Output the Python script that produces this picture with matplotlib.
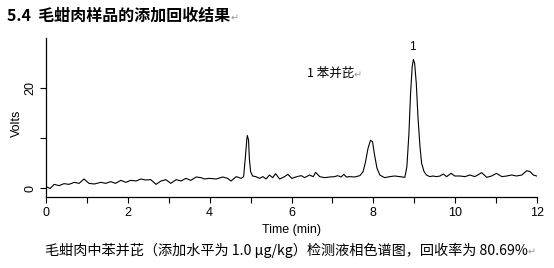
import matplotlib
matplotlib.use('Agg')
import matplotlib.pyplot as plt
import matplotlib.ticker as tk
from matplotlib.patches import Rectangle
from matplotlib.text import Annotation

plt.rcParams['font.family'] = ['Liberation Sans', 'DejaVu Sans']

# chromatogram trace (time in min, signal in volts)
t_min = [0.00, 0.10, 0.20, 0.32, 0.44, 0.56, 0.69, 0.81, 0.93, 1.05, 1.18, 1.34,
         1.46, 1.58, 1.70, 1.83, 1.95, 2.07, 2.20, 2.32, 2.44, 2.56, 2.69, 2.81,
         2.93, 3.05, 3.18, 3.30, 3.42, 3.54, 3.67, 3.79, 3.87, 3.99, 4.16, 4.32,
         4.44, 4.52, 4.65, 4.77, 4.83, 4.87, 4.91, 4.92, 4.95, 4.97, 5.00, 5.05,
         5.13, 5.22, 5.30, 5.38, 5.46, 5.54, 5.61, 5.71, 5.83, 5.91, 6.01, 6.13,
         6.24, 6.32, 6.44, 6.53, 6.59, 6.69, 6.81, 6.93, 7.05, 7.13, 7.21, 7.28,
         7.34, 7.42, 7.54, 7.67, 7.75, 7.81, 7.87, 7.93, 7.98, 8.03, 8.09, 8.16,
         8.20, 8.28, 8.40, 8.52, 8.65, 8.77, 8.82, 8.87, 8.91, 8.95, 8.98, 9.01,
         9.05, 9.09, 9.14, 9.18, 9.24, 9.30, 9.38, 9.46, 9.54, 9.63, 9.71, 9.79,
         9.90, 9.99, 10.12, 10.24, 10.36, 10.48, 10.65, 10.77, 10.89, 11.01,
         11.14, 11.26, 11.38, 11.50, 11.63, 11.75, 11.83, 11.91, 11.99]
volts = [0.3, -0.1, 0.73, 0.47, 0.87, 0.73, 1.13, 0.93, 1.8, 0.93, 0.8, 1.13,
         0.93, 1.27, 0.93, 1.53, 1.13, 1.53, 1.4, 1.8, 1.6, 1.67, 0.73, 1.4,
         1.67, 0.93, 1.67, 1.4, 1.93, 1.53, 2.2, 2.07, 1.8, 1.93, 1.8, 2.2,
         1.93, 1.4, 2.27, 1.93, 2.27, 5.9, 9.9, 10.5, 9.6, 5.9, 3.27, 2.4,
         2.27, 1.93, 2.27, 1.8, 2.6, 2.07, 2.87, 1.8, 2.27, 2.73, 1.93, 2.27,
         2.47, 2.07, 2.6, 2.27, 3.13, 2.27, 2.07, 2.2, 2.27, 2.47, 2.2, 2.73,
         2.2, 2.27, 2.2, 2.47, 3.27, 5.27, 7.93, 9.53, 9.27, 6.6, 3.93, 2.6,
         2.4, 2.07, 2.27, 2.4, 2.27, 2.13, 4.27, 10.9, 18.9, 24.3, 25.7, 24.9,
         20.9, 14.3, 8.27, 4.93, 3.27, 2.6, 2.27, 2.4, 2.27, 2.4, 2.8, 2.27,
         2.93, 2.4, 2.4, 2.27, 2.6, 2.27, 3.07, 2.13, 2.4, 2.93,
         2.27, 2.4, 2.6, 2.4, 2.6, 3.47, 3.27, 2.6, 2.4]

x_major = [0, 2, 4, 6, 8, 10, 12]
y_major = [0, 20]
y_minor = [10]

title_txt = '5.4  毛蚶肉样品的添加回收结果'
legend_txt = '1 苯并芘'
caption_txt = '毛蚶肉中苯并芘（添加水平为 1.0 μg/kg）检测液相色谱图，回收率为 80.69%'
cjk = ['Noto Sans CJK SC', 'DejaVu Sans']

fig = plt.figure(figsize=(5.54, 2.68), dpi=100)
ax = fig.add_axes([46 / 554, 1 - 197 / 268, (537 - 46) / 554, (197 - 38) / 268])

ax.plot(t_min, volts, color='k', lw=0.8)

ax.set_xlim(0, 12)
ax.set_ylim(-1.8, 30)
for s in ['top', 'right']:
    ax.spines[s].set_visible(False)
ax.spines['left'].set_linewidth(0.9)
ax.spines['bottom'].set_linewidth(0.9)

ax.set_xticks(x_major)
ax.xaxis.set_minor_locator(tk.MultipleLocator(1))
ax.set_yticks(y_major)
ax.set_yticks(y_minor, minor=True)
ax.set_yticklabels([str(v) for v in y_major], rotation=90, va='center')
ax.tick_params(which='both', direction='out', length=4, width=0.8, labelsize=9, pad=3)

ax.set_xlabel('Time (min)', fontsize=9, labelpad=4)
ax.set_ylabel('Volts', fontsize=9)
ax.yaxis.set_label_coords(-0.047, 0.465)

l1 = ax.text(6.37, 23, legend_txt, family=cjk, fontsize=9, va='center', ha='left')
ax.text(8.95, 28.3, '1', fontsize=8.5, va='center', ha='center')

# caption block sits over the bottom of the chart image
fig.patches.append(Rectangle((0, 0), 1, 1 - 237 / 268, transform=fig.transFigure,
                             facecolor='white', edgecolor='none', zorder=5))

t1 = fig.text(7 / 554, 1 - 16 / 268, title_txt, family=cjk, fontsize=11.5,
              fontweight='bold', va='center', ha='left')
c1 = fig.text(45 / 554, 1 - 250 / 268, caption_txt, family=cjk, fontsize=10.2,
              va='center', ha='left', zorder=6)

# word-processor paragraph marks
for obj in [t1, c1, l1]:
    mark = Annotation('↵', xy=(1, 0.35), xycoords=obj, fontsize=7, color='#999999',
                      family=['DejaVu Sans'], va='center', ha='left', zorder=7)
    fig.add_artist(mark)

fig.savefig('out.png', dpi=100)
